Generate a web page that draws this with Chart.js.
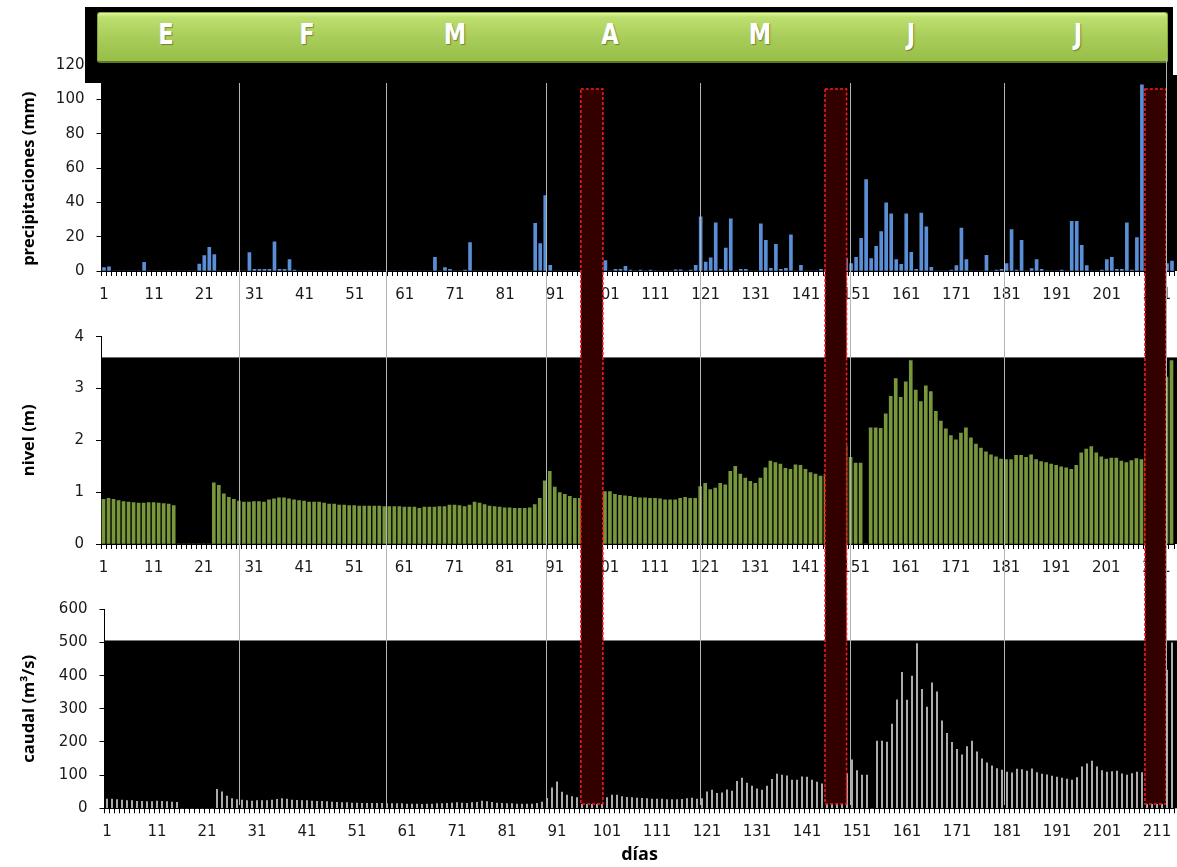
<!DOCTYPE html>
<html>
<head>
<meta charset="utf-8">
<script src="https://cdn.jsdelivr.net/npm/chart.js@4.4.0/dist/chart.umd.min.js"></script>
<style>
  body { margin: 0; background: #fff; }
  #lienzo { position: relative; width: 1177px; height: 867px; overflow: hidden; }
  canvas.panel { position: absolute; left: 0; z-index: 1; }
  #cabecera { position: absolute; left: 85px; top: 7px; width: 1088px; height: 76px; background: #000; z-index: 2; }
  #margen { position: absolute; left: 1173px; top: 0; width: 4px; height: 75px; background: #fff; z-index: 2; }
  #franja {
    position: absolute; left: 97px; top: 12px; width: 1069px; height: 48px; z-index: 2;
    background: linear-gradient(to bottom, #e2f6a2 0px, #bddf70 4px, #a9cd5a 50%, #97be48 100%);
    border: 1px solid #86a63d; border-bottom: 2px solid #5c7a24; border-radius: 3px;
  }
  .mes {
    position: absolute; top: 20px; z-index: 2; transform: translateX(-50%) scaleY(1.1);
    font: bold 25px "DejaVu Sans Condensed", "DejaVu Sans", sans-serif; color: #fff;
    text-shadow: 1px 1px 1px rgba(0,0,0,0.35);
  }
  #encima { position: absolute; left: 0; top: 0; z-index: 3; pointer-events: none; }
</style>
</head>
<body>
<div id="lienzo">
  <canvas id="precipitacion" class="panel" width="1177" height="305" style="top:0px"></canvas>
  <canvas id="nivelRio" class="panel" width="1177" height="270" style="top:305px"></canvas>
  <canvas id="caudalRio" class="panel" width="1177" height="292" style="top:575px"></canvas>
  <div id="cabecera"></div>
  <div id="margen"></div>
  <div id="franja"></div>
  <canvas id="encima" width="1177" height="867"></canvas>
</div>
<script>
var dias = [];
for (var d = 1; d <= 214; d++) {
    dias.push(String(d));
}

var precipitaciones = [
    2, 2.5, 0, 0, 0, 0, 0, 0, 5, 0,
    0, 0, 0, 0, 0, 0, 0, 0, 0, 4,
    9, 13.8, 9.5, 0, 0, 0, 0, 0, 0, 10.7,
    1, 1, 1, 1, 17, 1, 1, 6.6, 0.5, 0,
    0, 0, 0, 0, 0, 0, 0, 0, 0, 0,
    0, 0, 0, 0, 0, 0, 0, 0, 0, 0,
    0, 0, 0, 0, 0, 0, 8, 0, 2, 1,
    0, 0, 0.5, 16.5, 0, 0, 0, 0, 0, 0,
    0, 0, 0, 0, 0, 0, 27.7, 16, 44, 3.3,
    0, 0, 0, 0, 0, 0, 0, 0, 0, 0,
    6, 0, 1, 1, 2.7, 0.5, 0, 0.5, 0, 0.5,
    0, 0, 0, 0, 0.7, 0.7, 0, 0.5, 3.3, 31.6,
    5.2, 7.7, 28, 1, 13.4, 30.4, 0, 1, 1, 0,
    0, 27.5, 17.8, 1.5, 15.5, 1, 1.5, 21, 0, 3.3,
    0, 0, 0, 1, 0, 0, 0, 0, 7.4, 4.3,
    8, 19, 53.3, 7.2, 14.3, 22.9, 39.7, 33.3, 6.6, 3.9,
    33.3, 10.9, 1, 33.7, 25.8, 2.1, 0, 0, 0, 0.5,
    3.1, 25, 6.6, 0, 0, 0, 9.1, 0, 0.5, 1,
    4.3, 24.2, 0.5, 17.8, 0, 1.4, 6.6, 1, 0, 0,
    0, 0.5, 0, 29, 29, 15, 3.1, 0, 0, 0.5,
    6.6, 8, 1, 1, 28, 0.5, 19.4, 108.5, 0, 0,
    0, 0, 4.3, 5.8
];

var nivel = [
    0.86, 0.88, 0.86, 0.84, 0.82, 0.81, 0.80, 0.79, 0.79, 0.80,
    0.80, 0.79, 0.78, 0.77, 0.74, 0, 0, 0, 0, 0,
    0, 0, 1.18, 1.13, 0.97, 0.90, 0.86, 0.83, 0.81, 0.81,
    0.82, 0.82, 0.81, 0.85, 0.87, 0.89, 0.89, 0.87, 0.85, 0.84,
    0.83, 0.81, 0.81, 0.81, 0.79, 0.77, 0.77, 0.75, 0.75, 0.74,
    0.74, 0.73, 0.73, 0.73, 0.73, 0.73, 0.72, 0.72, 0.72, 0.72,
    0.71, 0.71, 0.71, 0.69, 0.71, 0.71, 0.71, 0.72, 0.72, 0.75,
    0.75, 0.74, 0.72, 0.75, 0.81, 0.79, 0.76, 0.73, 0.72, 0.71,
    0.70, 0.70, 0.69, 0.69, 0.69, 0.70, 0.76, 0.88, 1.22, 1.40,
    1.10, 0.99, 0.96, 0.92, 0.88, 0.88, 0.90, 0.93, 0.97, 1.00,
    1.01, 1.01, 0.96, 0.94, 0.93, 0.92, 0.90, 0.89, 0.89, 0.88,
    0.88, 0.87, 0.85, 0.85, 0.85, 0.88, 0.90, 0.88, 0.88, 1.11,
    1.17, 1.05, 1.08, 1.17, 1.14, 1.40, 1.50, 1.35, 1.27, 1.21,
    1.17, 1.27, 1.47, 1.60, 1.57, 1.54, 1.46, 1.44, 1.53, 1.52,
    1.44, 1.38, 1.35, 1.31, 1.35, 1.45, 1.60, 1.80, 1.90, 1.67,
    1.56, 1.56, 0, 2.24, 2.24, 2.23, 2.51, 2.85, 3.19, 2.83,
    3.13, 3.54, 2.97, 2.75, 3.05, 2.94, 2.56, 2.37, 2.22, 2.09,
    2.01, 2.14, 2.24, 2.05, 1.93, 1.85, 1.78, 1.72, 1.68, 1.64,
    1.63, 1.63, 1.71, 1.71, 1.67, 1.72, 1.63, 1.59, 1.57, 1.54,
    1.52, 1.49, 1.47, 1.44, 1.52, 1.76, 1.83, 1.88, 1.76, 1.68,
    1.64, 1.66, 1.66, 1.60, 1.57, 1.61, 1.65, 1.63, 1.80, 2.20,
    2.60, 2.90, 3.22, 3.54
];

var caudal = [
    28, 28, 26, 25, 23, 23, 21, 21, 20, 20,
    22, 21, 20, 19, 18, 0, 0, 0, 0, 0,
    0, 0, 57, 50, 37, 29, 26, 25, 23, 22,
    23, 23, 23, 25, 27, 29, 28, 25, 24, 23,
    23, 22, 21, 21, 20, 19, 18, 17, 17, 16,
    16, 15, 15, 15, 15, 15, 14, 14, 14, 14,
    13, 13, 13, 12, 13, 13, 14, 14, 15, 16,
    17, 16, 15, 17, 18, 22, 20, 18, 16, 15,
    14, 14, 13, 13, 13, 13, 15, 19, 30, 62,
    80, 49, 40, 35, 32, 30, 30, 30, 31, 32,
    32, 40, 40, 35, 33, 32, 31, 30, 29, 28,
    28, 28, 26, 26, 26, 27, 29, 31, 28, 29,
    50, 55, 45, 47, 56, 52, 81, 91, 76, 67,
    59, 55, 67, 87, 103, 100, 98, 85, 85, 95,
    94, 85, 79, 74, 80, 90, 100, 110, 105, 146,
    114, 100, 100, 0, 203, 203, 200, 254, 327, 410,
    326, 399, 497, 359, 305, 378, 351, 264, 226, 199,
    178, 161, 186, 203, 170, 149, 137, 128, 120, 115,
    109, 107, 118, 117, 112, 119, 108, 103, 101, 97,
    94, 91, 88, 85, 93, 125, 134, 142, 125, 114,
    109, 111, 112, 104, 100, 105, 109, 108, 150, 250,
    330, 380, 417, 499
];

var meses = ['E', 'F', 'M', 'A', 'M', 'J', 'J'];
var posicionMeses = [166, 307, 455, 610, 760, 911, 1078];

// tramos tapados y divisiones de mes, medidos en dias desde el borde izquierdo
var tramosSinDato = [[95.6, 100.0], [144.3, 148.6], [208.1, 212.3]];
var divisionesMes = [27.4, 56.7, 88.6, 119.3, 149.3, 180.0, 212.3];

Chart.defaults.font.family = '"DejaVu Sans", sans-serif';
Chart.defaults.font.size = 15;
Chart.defaults.color = '#1a1a1a';

var fondoNegro = {
    id: 'fondoNegro',
    beforeDraw: function (chart, args, opts) {
        var ctx = chart.ctx;
        var area = chart.chartArea;
        var yTop = chart.scales.y.getPixelForValue(opts.hasta);
        ctx.save();
        ctx.fillStyle = '#000';
        ctx.fillRect(area.left, yTop, chart.width - area.left, area.bottom - yTop);
        ctx.restore();
    }
};

function crearPanel(idCanvas, datos, color, grosor, yMax, paso, tituloY, negroHasta, caja, tituloX) {
    var ctx = document.getElementById(idCanvas);
    return new Chart(ctx, {
        type: 'bar',
        data: {
            labels: dias,
            datasets: [{
                data: datos,
                backgroundColor: color,
                borderWidth: 0,
                barThickness: grosor
            }]
        },
        plugins: [fondoNegro],
        options: {
            responsive: false,
            animation: false,
            devicePixelRatio: 1,
            layout: {
                padding: {top: caja.arriba, right: caja.derecha, bottom: 0, left: 0}
            },
            plugins: {
                legend: {display: false},
                tooltip: {enabled: false},
                fondoNegro: {hasta: negroHasta}
            },
            scales: {
                x: {
                    grid: {display: true, drawOnChartArea: false, drawTicks: true, tickLength: 5, color: '#000', offset: true},
                    border: {display: true, color: '#000'},
                    ticks: {
                        autoSkip: false,
                        maxRotation: 0,
                        minRotation: 0,
                        padding: 10,
                        callback: function (value, index) {
                            return index % 10 === 0 ? this.getLabelForValue(value) : '';
                        }
                    },
                    title: tituloX ? {
                        display: true,
                        text: tituloX,
                        color: '#000',
                        font: {family: '"Open Sans", sans-serif', size: 18, weight: 'bold'},
                        padding: {top: 0, bottom: 1}
                    } : {display: false},
                    afterFit: function (scale) {
                        scale.height = caja.altoX;
                        scale.paddingLeft = 0;
                        scale.paddingRight = 0;
                    }
                },
                y: {
                    min: 0,
                    max: yMax,
                    ticks: {stepSize: paso, padding: 12},
                    grid: {display: true, drawOnChartArea: false, drawTicks: true, tickLength: 5, color: '#000'},
                    border: {display: true, color: '#000'},
                    title: {
                        display: true,
                        text: tituloY,
                        color: '#000',
                        font: {family: '"Open Sans", sans-serif', size: 16.5, weight: 'bold'},
                        padding: {top: 19, bottom: 0}
                    },
                    afterFit: function (scale) {
                        scale.width = caja.anchoY;
                    }
                }
            }
        }
    });
}

var graficoPrecip = crearPanel('precipitacion', precipitaciones, '#5a8ed6', 3, 120, 20,
    'precipitaciones (mm)\u00a0\u00a0\u00a0\u00a0\u00a0', 120,
    {arriba: 65, derecha: 2.5, anchoY: 101.5, altoX: 34});

var graficoNivel = crearPanel('nivelRio', nivel, '#78963c', 3, 4, 1,
    'nivel (m)', 3.6,
    {arriba: 31.7, derecha: 3, anchoY: 101, altoX: 31});

var graficoCaudal = crearPanel('caudalRio', caudal, '#cfcfcf', 1, 600, 100,
    'caudal (m\u00b3/s)', 506,
    {arriba: 34.3, derecha: 2.5, anchoY: 104.5, altoX: 58.7}, 'días');

// letras de los meses sobre la franja verde
var lienzo = document.getElementById('lienzo');
for (var i = 0; i < meses.length; i++) {
    var s = document.createElement('span');
    s.className = 'mes';
    s.textContent = meses[i];
    s.style.left = posicionMeses[i] + 'px';
    lienzo.appendChild(s);
}

// rectangulos rojos y lineas de division, sobre los tres paneles
function dibujarEncima(grafico) {
    var ctx = document.getElementById('encima').getContext('2d');
    var escala = grafico.scales.x;
    var px = function (u) { return escala.getPixelForValue(u - 0.5); };

    tramosSinDato.forEach(function (t) {
        var x0 = px(t[0]);
        var x1 = px(t[1]);
        ctx.fillStyle = '#330000';
        ctx.fillRect(x0, 89, x1 - x0, 715);
        ctx.setLineDash([3, 2]);
        ctx.strokeStyle = '#ff1a1a';
        ctx.lineWidth = 1.5;
        ctx.strokeRect(x0, 89, x1 - x0, 715);
    });

    ctx.setLineDash([]);
    ctx.strokeStyle = '#b4b4b4';
    ctx.lineWidth = 1;
    divisionesMes.forEach(function (u, k) {
        var xx = Math.round(px(u)) + 0.5;
        ctx.beginPath();
        ctx.moveTo(xx, k === divisionesMes.length - 1 ? 58 : 83);
        ctx.lineTo(xx, 805);
        ctx.stroke();
    });
}

dibujarEncima(graficoPrecip);
</script>
</body>
</html>
